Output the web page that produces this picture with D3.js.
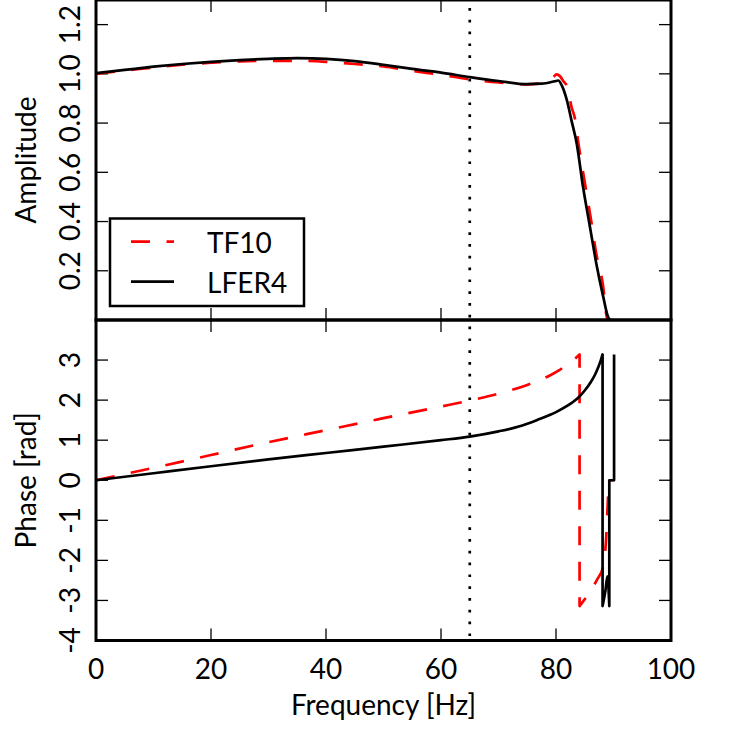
<!DOCTYPE html>
<html>
<head>
<meta charset="utf-8">
<script src="https://cdn.jsdelivr.net/npm/d3@7"></script>
<style>
  html, body { margin: 0; padding: 0; background: #fff; }
  svg { display: block; }
  text { font-family: Lato, "DejaVu Sans", sans-serif; fill: #000; }
</style>
</head>
<body>
<svg id="chart" width="729" height="730"></svg>
<script>
// ---------- data ----------
const xTicks = [0, 20, 40, 60, 80, 100];
const ampTicks = [0.2, 0.4, 0.6, 0.8, 1.0, 1.2];
const ampTickLabels = ["0.2", "0.4", "0.6", "0.8", "1.0", "1.2"];
const phaseTicks = [-4, -3, -2, -1, 0, 1, 2, 3];
const phaseTickLabels = ["-4", "-3", "-2", "-1", "0", "1", "2", "3"];
const seriesNames = ["TF10", "LFER4"];
const markerFreq = 65;

const ampFreqTF10 = [0, 5, 10, 15, 20, 25, 30, 35, 40, 45, 50, 55, 60, 65, 70, 75, 77, 78.5, 79.5, 80.1, 80.7, 81.3, 82.0, 82.7, 83.3, 83.9, 85.0, 86.0, 87.0, 88.2, 88.8, 89.0];
const ampTF10 = [1.0, 1.013, 1.026, 1.037, 1.045, 1.051, 1.053, 1.053, 1.049, 1.040, 1.030, 1.012, 0.996, 0.978, 0.965, 0.957, 0.960, 0.970, 0.985, 0.998, 0.990, 0.970, 0.945, 0.865, 0.818, 0.717, 0.560, 0.420, 0.270, 0.136, 0.015, 0];

const ampFreqLFER4 = [0, 5, 10, 15, 20, 25, 30, 35, 40, 45, 50, 55, 60, 65, 70, 75, 77.5, 79.8, 80.4, 81.0, 81.9, 82.7, 83.6, 84.7, 85.9, 87.0, 88.2, 89.1, 89.4];
const ampLFER4 = [1.003, 1.016, 1.029, 1.040, 1.049, 1.056, 1.061, 1.064, 1.061, 1.052, 1.037, 1.020, 1.005, 0.987, 0.971, 0.958, 0.960, 0.970, 0.973, 0.953, 0.892, 0.810, 0.717, 0.541, 0.379, 0.231, 0.096, 0.010, 0];

const phaseFreqTF10 = [0, 10, 20, 30, 40, 50, 60, 65, 70, 75, 77, 79, 80.5, 82, 83, 84.1, 84.1, 85.3, 87.1, 88.2, 88.7, 89.1, 89.3, 90.1];
const phaseTF10 = [0, 0.31, 0.63, 0.95, 1.25, 1.55, 1.84, 1.99, 2.16, 2.38, 2.49, 2.62, 2.74, 2.9, 3.0, 3.14, -3.14, -2.91, -2.49, -2.16, -1.5, -0.3, 0, 0];

const phaseFreqLFER4 = [0, 10, 20, 30, 40, 50, 60, 65, 70, 74, 77, 80, 82, 83, 84, 85, 86, 86.8, 87.4, 87.8, 88.1, 88.1, 88.6, 88.95, 89.27, 89.27, 90.1, 90.1];
const phaseLFER4 = [0, 0.175, 0.35, 0.52, 0.68, 0.84, 1.0, 1.09, 1.22, 1.36, 1.52, 1.70, 1.86, 1.96, 2.08, 2.24, 2.44, 2.64, 2.84, 3.0, 3.14, -3.14, -2.75, -2.4, -3.14, 0, 0, 3.14];

// ---------- layout ----------
const svg = d3.select("#chart");
const left = 96, right = 671;
const x = d3.scaleLinear().domain([0, 100]).range([left, right]);
const yAmp = d3.scaleLinear().domain([0, 1.3]).range([320, 0]);
const yPh = d3.scaleLinear().domain([-4, 4]).range([640.5, 320]);

const FS = 28;
const TICK = 12;

const defs = svg.append("defs");

// path made of monotone segments, split where the frequency repeats (vertical jumps)
function pathFor(xs, ys, y) {
  const segs = [];
  let cur = [];
  xs.forEach((xv, i) => {
    if (cur.length && xv === xs[i - 1]) { segs.push(cur); cur = []; }
    cur.push([x(xv), y(ys[i])]);
  });
  if (cur.length) segs.push(cur);
  const gen = d3.line().curve(d3.curveMonotoneX);
  return segs.map((s, k) => {
    const d = s.length > 1 ? gen(s) : `M${s[0][0]},${s[0][1]}`;
    return k === 0 ? d : "L" + d.slice(1);
  }).join("");
}

function panel(id, y, ticks, labels, dataSets) {
  const [y0, y1] = y.range(); // bottom, top
  defs.append("clipPath").attr("id", id)
    .append("rect").attr("x", left).attr("y", y1).attr("width", right - left).attr("height", y0 - y1);
  const g = svg.append("g");
  const tg = g.append("g").attr("stroke", "#000").attr("stroke-width", 1.3);
  xTicks.forEach(t => {
    tg.append("line").attr("x1", x(t)).attr("x2", x(t)).attr("y1", y0).attr("y2", y0 - TICK);
    tg.append("line").attr("x1", x(t)).attr("x2", x(t)).attr("y1", y1).attr("y2", y1 + TICK);
  });
  ticks.forEach(t => {
    tg.append("line").attr("y1", y(t)).attr("y2", y(t)).attr("x1", left).attr("x2", left + TICK);
    tg.append("line").attr("y1", y(t)).attr("y2", y(t)).attr("x1", right).attr("x2", right - TICK);
  });
  ticks.forEach((t, i) => {
    g.append("text").attr("transform", `translate(80,${y(t)}) rotate(-90)`)
      .attr("text-anchor", "middle").attr("font-size", FS).text(labels[i]);
  });
  const dg = g.append("g").attr("clip-path", `url(#${id})`);
  dataSets.forEach(ds => {
    dg.append("path").attr("d", pathFor(ds.xs, ds.ys, y)).attr("fill", "none")
      .attr("stroke", ds.color).attr("stroke-width", 2.7)
      .attr("stroke-dasharray", ds.dash || null)
      .attr("stroke-linejoin", "round");
  });
  return g;
}

panel("clipAmp", yAmp, ampTicks, ampTickLabels, [
  { xs: ampFreqTF10, ys: ampTF10, color: "#ff0000", dash: "19,16.5" },
  { xs: ampFreqLFER4, ys: ampLFER4, color: "#000000" }
]);
panel("clipPh", yPh, phaseTicks, phaseTickLabels, [
  { xs: phaseFreqTF10, ys: phaseTF10, color: "#ff0000", dash: "19,16.5" },
  { xs: phaseFreqLFER4, ys: phaseLFER4, color: "#000000" }
]);

// vertical dotted marker
svg.append("line").attr("x1", x(markerFreq)).attr("x2", x(markerFreq))
  .attr("y1", 8).attr("y2", yPh.range()[0])
  .attr("stroke", "#000").attr("stroke-width", 2.7).attr("stroke-dasharray", "2.7,9.1");

// spines
[yAmp, yPh].forEach(y => {
  const [y0, y1] = y.range();
  svg.append("rect").attr("x", left).attr("y", y1).attr("width", right - left).attr("height", y0 - y1)
    .attr("fill", "none").attr("stroke", "#000").attr("stroke-width", 3);
});

// x tick labels
xTicks.forEach(t => {
  svg.append("text").attr("x", x(t)).attr("y", 679).attr("text-anchor", "middle")
    .attr("font-size", FS).text(t);
});
// axis labels
svg.append("text").attr("x", (left + right) / 2).attr("y", 715).attr("text-anchor", "middle")
  .attr("font-size", FS).text("Frequency [Hz]");
svg.append("text").attr("transform", `translate(36,${(yAmp.range()[0] + yAmp.range()[1]) / 2}) rotate(-90)`)
  .attr("text-anchor", "middle").attr("font-size", FS).text("Amplitude");
svg.append("text").attr("transform", `translate(36,${(yPh.range()[0] + yPh.range()[1]) / 2}) rotate(-90)`)
  .attr("text-anchor", "middle").attr("font-size", FS).text("Phase [rad]");

// legend
const lg = svg.append("g");
lg.append("rect").attr("x", 110).attr("y", 218.5).attr("width", 194).attr("height", 87.5)
  .attr("fill", "#fff").attr("stroke", "#000").attr("stroke-width", 2.5);
const legendStyles = [{ color: "#ff0000", dash: "19,16.5" }, { color: "#000000", dash: null }];
seriesNames.forEach((name, i) => {
  const cy = 241.7 + i * 40;
  lg.append("line").attr("x1", 131).attr("x2", 174).attr("y1", cy).attr("y2", cy)
    .attr("stroke", legendStyles[i].color).attr("stroke-width", 2.7)
    .attr("stroke-dasharray", legendStyles[i].dash);
  lg.append("text").attr("x", 207).attr("y", cy + 11).attr("font-size", FS).text(name);
});
</script>
</body>
</html>
